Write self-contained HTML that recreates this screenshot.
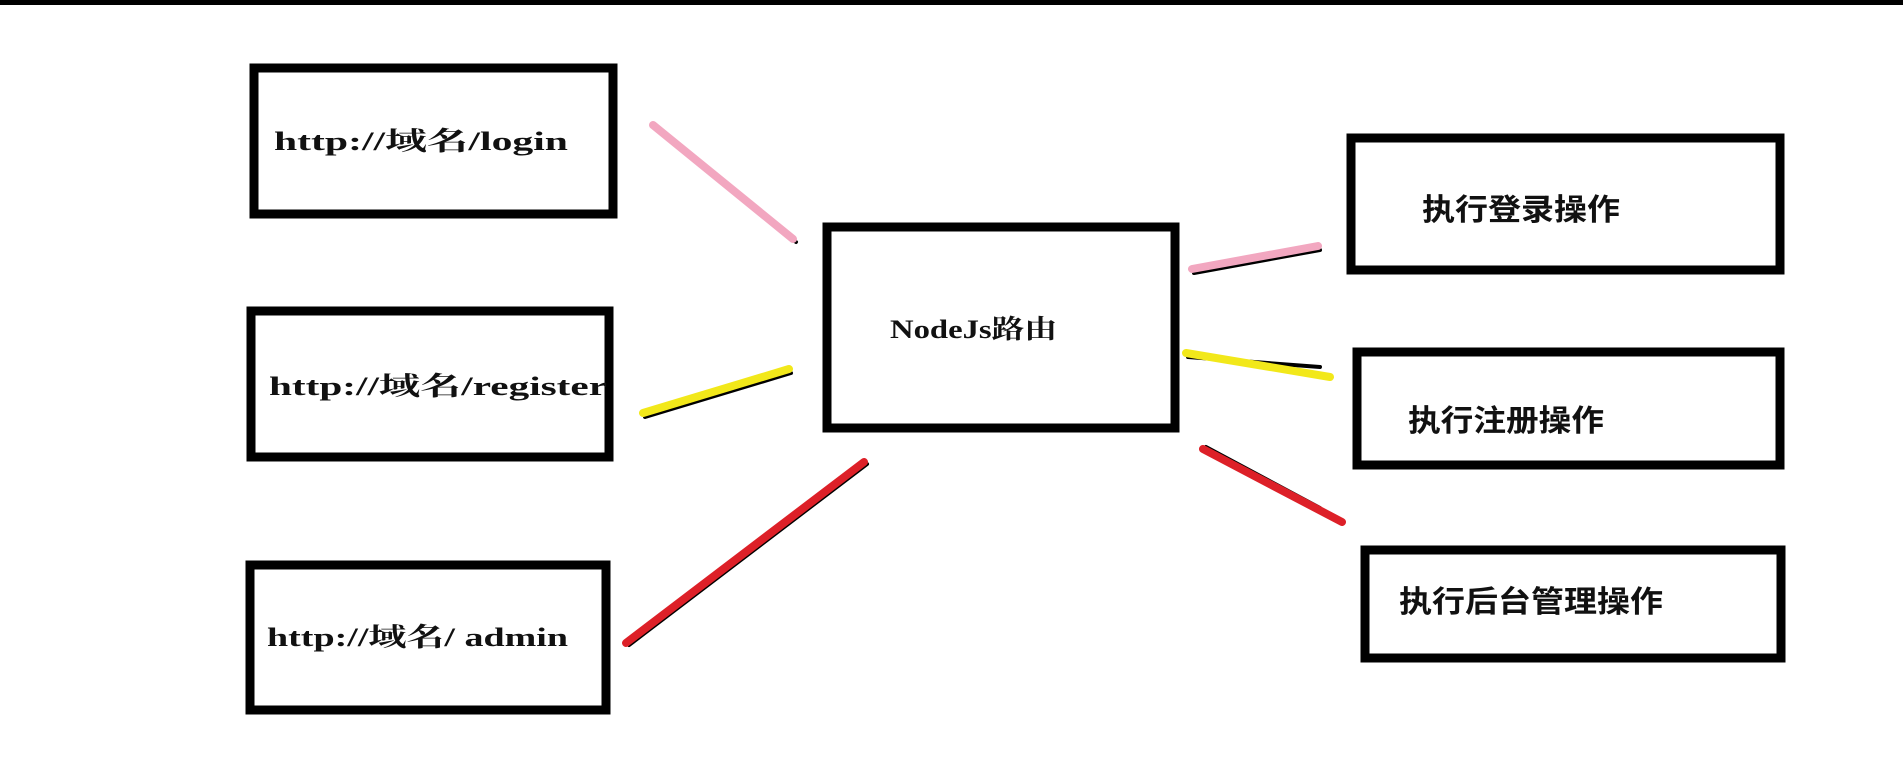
<!DOCTYPE html>
<html><head><meta charset="utf-8"><style>
html,body{margin:0;padding:0;background:#fff;width:1903px;height:778px;overflow:hidden}
svg{display:block}
.t{font-family:"Liberation Serif","Noto Serif CJK SC",serif;font-weight:bold;font-size:26px;fill:#111}
.c{font-family:"Liberation Sans","Noto Sans CJK SC",sans-serif;font-weight:bold;font-size:30px;fill:#111}
</style></head><body>
<svg width="1903" height="778" viewBox="0 0 1903 778">
<rect x="0" y="0" width="1903" height="5" fill="#000"/>
<g fill="none" stroke="#000" stroke-width="9">
<rect x="254" y="68" width="359" height="146"/>
<rect x="251" y="311" width="358" height="146"/>
<rect x="250" y="565" width="356" height="145"/>
<rect x="827" y="227" width="348" height="201"/>
<rect x="1351" y="138" width="429" height="132"/>
<rect x="1357" y="352" width="423" height="113"/>
<rect x="1365" y="550" width="416" height="108"/>
</g>
<g stroke-linecap="round">
<line x1="657" y1="128" x2="796" y2="242" stroke="#000" stroke-width="4"/>
<line x1="653" y1="125" x2="793" y2="239" stroke="#f2a7c0" stroke-width="8"/>
<line x1="645" y1="417" x2="791" y2="373" stroke="#000" stroke-width="4"/>
<line x1="643" y1="413" x2="789" y2="369" stroke="#f2e81a" stroke-width="8"/>
<line x1="629" y1="645" x2="867" y2="464" stroke="#000" stroke-width="4"/>
<line x1="626" y1="643" x2="864" y2="462" stroke="#dd2028" stroke-width="8"/>
<line x1="1194" y1="273" x2="1320" y2="250" stroke="#000" stroke-width="4"/>
<line x1="1192" y1="269" x2="1318" y2="246" stroke="#f2a7c0" stroke-width="8"/>
<line x1="1188" y1="357" x2="1320" y2="367" stroke="#000" stroke-width="4"/>
<line x1="1186" y1="353" x2="1330" y2="377" stroke="#f2e81a" stroke-width="8"/>
<line x1="1206" y1="447" x2="1320" y2="508" stroke="#000" stroke-width="4"/>
<line x1="1203" y1="449" x2="1342" y2="522" stroke="#dd2028" stroke-width="8"/>
</g>
<text class="t" x="274" y="150" textLength="294" lengthAdjust="spacingAndGlyphs">http://域名/login</text>
<text class="t" x="269" y="395" textLength="338" lengthAdjust="spacingAndGlyphs">http://域名/register</text>
<text class="t" x="267" y="646" textLength="301" lengthAdjust="spacingAndGlyphs">http://域名/ admin</text>
<text class="t" x="890" y="338" textLength="167" lengthAdjust="spacingAndGlyphs">NodeJs路由</text>
<text class="c" x="1422" y="220" textLength="198" lengthAdjust="spacingAndGlyphs">执行登录操作</text>
<text class="c" x="1408" y="431" textLength="196" lengthAdjust="spacingAndGlyphs">执行注册操作</text>
<text class="c" x="1399" y="612" textLength="264" lengthAdjust="spacingAndGlyphs">执行后台管理操作</text>
</svg>
</body></html>
